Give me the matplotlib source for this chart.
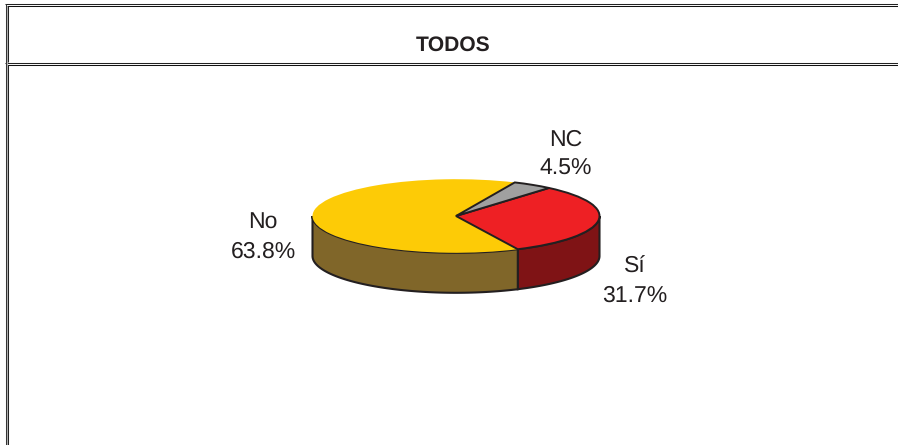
import numpy as np
import matplotlib
matplotlib.use("Agg")
import matplotlib.pyplot as plt

categories = ["Sí", "NC", "No"]
values = [31.7, 4.5, 63.8]
top_colors = ["#EE2024", "#A0A0A0", "#FDCB06"]
wall_colors = ["#7F1315", "#606060", "#806629"]
title = "TODOS"

W, H = 898, 445
plt.rcParams["font.family"] = ["Liberation Sans", "DejaVu Sans"]
plt.rcParams["text.hinting"] = "none"
plt.rcParams["text.hinting_factor"] = 1
fig = plt.figure(figsize=(W / 100, H / 100), dpi=100, facecolor="white")

# frame, in pixel coordinates
bg = fig.add_axes([0, 0, 1, 1])
bg.set_xlim(0, W)
bg.set_ylim(H, 0)
bg.axis("off")
line = dict(lw=0.75, solid_capstyle="butt", snap=True)
for y0 in (3.5, 62):
    bg.plot([5, W], [y0 + 0.5, y0 + 0.5], color="#222222", **line)
    bg.plot([7, W], [y0 + 2.5, y0 + 2.5], color="#111111", **line)
bg.plot([5.5, 5.5], [3.5, H], color="#333333", **line)
bg.plot([6.5, 6.5], [6, H], color="#b0b0b0", **line)
bg.plot([7.5, 7.5], [6, 62], color="#222222", **line)
bg.plot([7.5, 7.5], [65, H], color="#222222", **line)
bg.text(453.5, 45.5, title, ha="center", va="center", fontsize=15.1, fontweight="bold", color="#231F20")

# pie: the axes box is the top ellipse
cx, cy, rx, ry = 456, 216, 143.5, 36.8
depth = 40 / ry
ax = fig.add_axes([(cx - rx) / W, 1 - (cy + ry) / H, 2 * rx / W, 2 * ry / H], zorder=2)
ax.patch.set_alpha(0)
start = -64.5
wedges, _ = ax.pie(values, colors=top_colors, startangle=start, counterclock=True,
                   wedgeprops=dict(edgecolor="#231F20", linewidth=1.4, clip_on=False))
wedges[2].set_edgecolor("none")
wedges[2].set_zorder(0.9)
ax.set_aspect("auto")
ax.set_xlim(-1, 1)
ax.set_ylim(-1, 1)

# side walls for the visible front part of each slice
angles = start + np.cumsum([0] + values) * 3.6
for i, col in enumerate(wall_colors):
    a0, a1 = angles[i], angles[i + 1]
    a0 = ((a0 + 180) % 360) - 180
    a1 = a0 + values[i] * 3.6
    spans = [(max(a0, -180), min(a1, 0)), (max(a0 - 360, -180), min(a1 - 360, 0))]
    for lo, hi in spans:
        if hi <= lo:
            continue
        t = np.radians(np.linspace(lo, hi, 80))
        xs = np.r_[np.cos(t), np.cos(t[::-1])]
        ys = np.r_[np.sin(t) - depth, np.sin(t[::-1])]
        ax.fill(xs, ys, facecolor=col, edgecolor="#231F20", linewidth=1.5, zorder=0.5, clip_on=False)

# labels
label_pos = {"Sí": (634.5, 281.5), "NC": (565.5, 154.5), "No": (263, 237.5)}
for c, v in zip(categories, values):
    x, y = label_pos[c]
    bg.text(x, y, f"{c}\n{v}%", ha="center", va="center", fontsize=16.4,
            color="#231F20", linespacing=1.48)

fig.savefig("out.png", dpi=100)
